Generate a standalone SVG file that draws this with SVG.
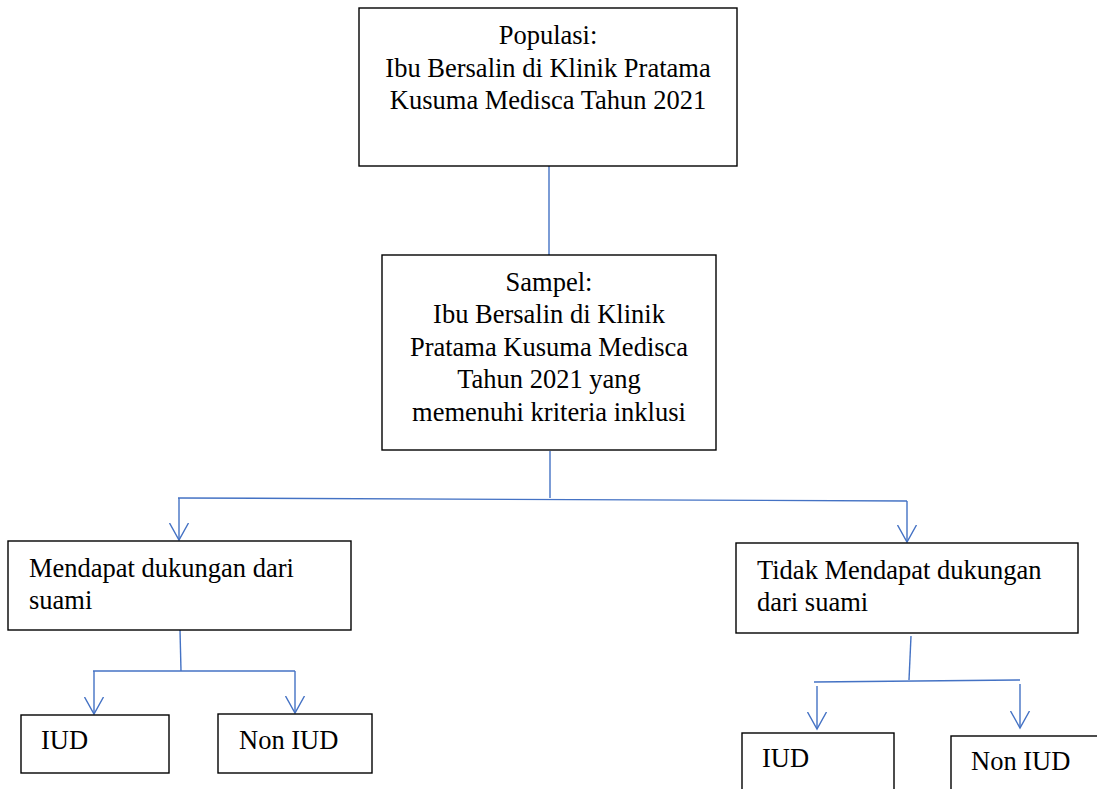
<svg xmlns="http://www.w3.org/2000/svg" width="1097" height="789" viewBox="0 0 1097 789">
<style>
.box{fill:#fff;stroke:#000;stroke-width:1.4}
.t{font-size:26.5px;fill:#000}
.c{text-anchor:middle}
.ln{fill:none;stroke:#4472C4;stroke-width:1.4}
</style>
<defs>
<marker id="ah" markerWidth="24" markerHeight="24" refX="10" refY="17" orient="0" markerUnits="userSpaceOnUse">
<path d="M0.5,0 L10,17 L19.5,0" fill="none" stroke="#4472C4" stroke-width="1.4"/>
</marker>
</defs>
<rect width="1097" height="789" fill="#fff"/>
<g id="connectors">
<line class="ln" x1="549" y1="166" x2="549" y2="255"/>
<line class="ln" x1="550" y1="451" x2="550" y2="498"/>
<polyline class="ln" points="178,498 907,501"/>
<line class="ln" x1="179" y1="498" x2="179" y2="540" marker-end="url(#ah)"/>
<line class="ln" x1="907" y1="501" x2="907" y2="542" marker-end="url(#ah)"/>
<line class="ln" x1="180" y1="630" x2="181" y2="671"/>
<line class="ln" x1="93" y1="671" x2="295" y2="671"/>
<line class="ln" x1="94" y1="671" x2="94" y2="714" marker-end="url(#ah)"/>
<line class="ln" x1="295" y1="671" x2="295" y2="713" marker-end="url(#ah)"/>
<line class="ln" x1="911" y1="636" x2="909" y2="680"/>
<line class="ln" x1="814" y1="682" x2="1020" y2="680"/>
<line class="ln" x1="817" y1="686" x2="817" y2="729" marker-end="url(#ah)"/>
<line class="ln" x1="1020" y1="684" x2="1020" y2="728" marker-end="url(#ah)"/>
</g>
<g font-family="Liberation Serif, Times New Roman, DejaVu Serif, serif">
<g id="populasi">
<rect class="box" x="359" y="8" width="378" height="158"/>
<text class="t c" x="548" y="44">Populasi:</text>
<text class="t c" x="548" y="77">Ibu Bersalin di Klinik Pratama</text>
<text class="t c" x="548" y="109">Kusuma Medisca Tahun 2021</text>
</g>
<g id="sampel">
<rect class="box" x="382" y="255" width="334" height="195"/>
<text class="t c" x="549" y="291">Sampel:</text>
<text class="t c" x="549" y="323">Ibu Bersalin di Klinik</text>
<text class="t c" x="549" y="356">Pratama Kusuma Medisca</text>
<text class="t c" x="549" y="388">Tahun 2021 yang</text>
<text class="t c" x="549" y="421">memenuhi kriteria inklusi</text>
</g>
<g id="mendapat">
<rect class="box" x="8" y="541" width="343" height="89"/>
<text class="t" x="29" y="577">Mendapat dukungan dari</text>
<text class="t" x="29" y="609">suami</text>
</g>
<g id="tidak">
<rect class="box" x="736" y="543" width="342" height="90"/>
<text class="t" x="757" y="579">Tidak Mendapat dukungan</text>
<text class="t" x="757" y="611">dari suami</text>
</g>
<g id="iud1">
<rect class="box" x="21" y="715" width="148" height="58"/>
<text class="t" x="41" y="749">IUD</text>
</g>
<g id="noniud1">
<rect class="box" x="218" y="714" width="154" height="59"/>
<text class="t" x="239" y="749">Non IUD</text>
</g>
<g id="iud2">
<rect class="box" x="742" y="733" width="152" height="70"/>
<text class="t" x="762" y="767">IUD</text>
</g>
<g id="noniud2">
<rect class="box" x="951" y="736" width="160" height="70"/>
<text class="t" x="971" y="770">Non IUD</text>
</g>
</g>
</svg>
